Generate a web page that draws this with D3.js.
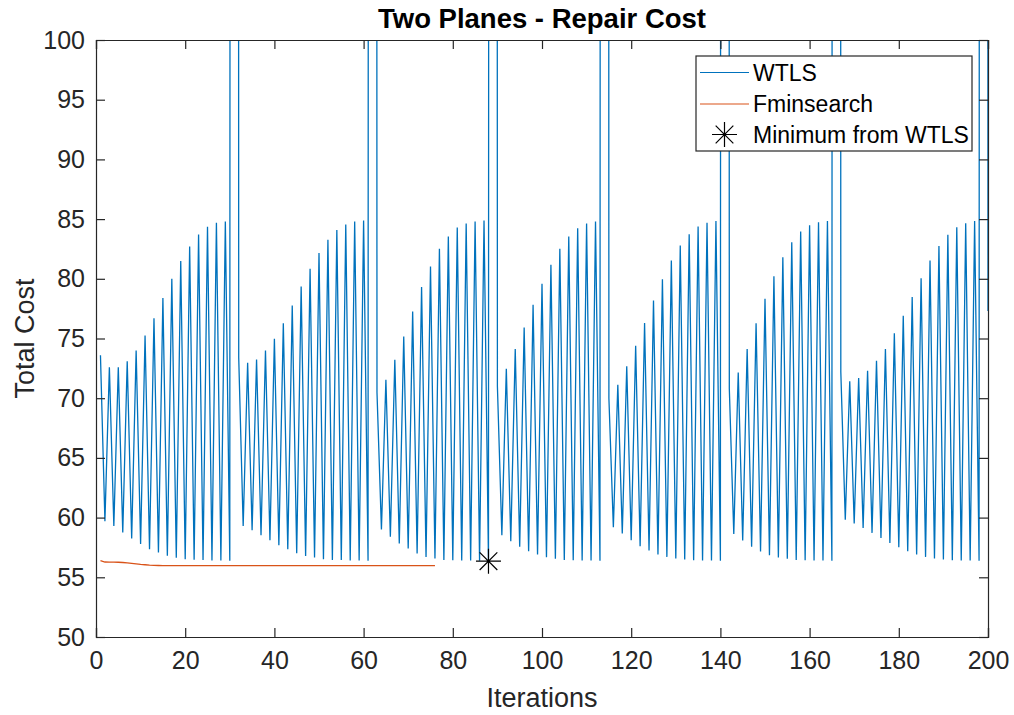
<!DOCTYPE html>
<html>
<head>
<meta charset="utf-8">
<script src="https://cdn.jsdelivr.net/npm/d3@7"></script>
<style>
  html, body { margin: 0; padding: 0; background: #fff; }
  svg { display: block; font-family: "Liberation Sans", Arial, Helvetica, sans-serif; }
</style>
</head>
<body>
<svg id="chart" width="1014" height="715"></svg>
<script>
// Total cost per iteration of the WTLS solver (iterations 1..200).
// Values far above the axis limit are the divergent restarts.
const wtlsCost = [
  73.6, 59.7, 72.6, 59.3, 72.6, 58.75, 73.1, 58.25, 74.0, 57.8,
  75.25, 57.36, 76.7, 57.08, 78.4, 56.8, 80.0, 56.63, 81.5, 56.52,
  82.7, 56.47, 83.7, 56.44, 84.35, 56.41, 84.7, 56.4, 84.8, 56.38,
  1200,
  73.4, 59.3, 72.97, 58.94, 73.24, 58.52, 74.0, 58.1, 74.97, 57.68,
  76.28, 57.35, 77.76, 57.01, 79.35, 56.79, 80.85, 56.65, 82.16, 56.51,
  83.27, 56.46, 84.08, 56.44, 84.55, 56.41, 84.8, 56.41, 84.89, 56.38,
  1200,
  70.5, 59.0, 71.55, 58.39, 73.22, 57.83, 75.17, 57.41, 77.27, 57.0,
  79.31, 56.71, 81.03, 56.57, 82.51, 56.46, 83.54, 56.43, 84.29, 56.41,
  84.63, 56.41, 84.8, 56.38, 84.89, 56.35,
  1200,
  71.0, 58.52, 72.47, 58.02, 74.12, 57.55, 75.93, 57.19, 77.82, 56.91,
  79.58, 56.69, 81.17, 56.55, 82.51, 56.46, 83.54, 56.43, 84.24, 56.41,
  84.63, 56.41, 84.8, 56.38,
  1200,
  70.0, 59.19, 71.13, 58.66, 72.67, 58.1, 74.4, 57.6, 76.29, 57.24,
  78.18, 56.91, 79.97, 56.71, 81.53, 56.57, 82.79, 56.49, 83.74, 56.43,
  84.38, 56.41, 84.69, 56.41, 84.83, 56.38,
  1200,
  70.8, 58.63, 72.16, 58.08, 74.12, 57.55, 76.28, 57.16, 78.33, 56.85,
  80.22, 56.65, 81.81, 56.55, 83.07, 56.46, 83.96, 56.43, 84.49, 56.41,
  84.74, 56.41, 84.85, 56.38,
  1200,
  72.2, 59.83, 71.41, 59.5, 71.69, 59.14, 72.3, 58.72, 73.14, 58.3,
  74.12, 57.88, 75.43, 57.52, 76.9, 57.19, 78.47, 56.91, 80.05, 56.71,
  81.53, 56.57, 82.74, 56.49, 83.68, 56.43, 84.32, 56.41, 84.66, 56.41,
  84.83, 56.38,
  1200,
  77.3
];

// Total cost per iteration of fminsearch (iterations 1..76).
const fminCost = [
  56.40, 56.28, 56.27, 56.27, 56.26, 56.24, 56.20, 56.16, 56.12, 56.08,
  56.05, 56.02, 56.00, 55.99, 55.98, 55.97, 55.97, 55.97, 55.97, 55.97,
  55.97, 55.97, 55.97, 55.97, 55.97, 55.97, 55.97, 55.97, 55.97, 55.97,
  55.97, 55.97, 55.97, 55.97, 55.97, 55.97, 55.97, 55.97, 55.97, 55.97,
  55.97, 55.97, 55.97, 55.97, 55.97, 55.97, 55.97, 55.97, 55.97, 55.97,
  55.97, 55.97, 55.97, 55.97, 55.97, 55.97, 55.97, 55.97, 55.97, 55.97,
  55.97, 55.97, 55.97, 55.97, 55.97, 55.97, 55.97, 55.97, 55.97, 55.97,
  55.97, 55.97, 55.97, 55.97, 55.97, 55.97
];

const xTicks = [0, 20, 40, 60, 80, 100, 120, 140, 160, 180, 200];
const yTicks = [50, 55, 60, 65, 70, 75, 80, 85, 90, 95, 100];
const legendLabels = ["WTLS", "Fminsearch", "Minimum from WTLS"];

const titleText = "Two Planes - Repair Cost";
const xLabelText = "Iterations";
const yLabelText = "Total Cost";

// ---- layout ----
const margin = { left: 96, top: 40, right: 26, bottom: 78 };
const W = 1014, H = 715;
const pw = W - margin.left - margin.right;
const ph = H - margin.top - margin.bottom;

const blue = "#0072BD", orange = "#D95319", axisColor = "#262626";

const svg = d3.select("#chart");
const g = svg.append("g").attr("transform", `translate(${margin.left},${margin.top})`);

const x = d3.scaleLinear().domain([0, 200]).range([0, pw]);
const y = d3.scaleLinear().domain([50, 100]).range([ph, 0]);

g.append("defs").append("clipPath").attr("id", "plotClip")
  .append("rect").attr("width", pw).attr("height", ph);

// ---- series ----
const wtlsPts = wtlsCost.map((v, i) => [i + 1, v]);
const fminPts = fminCost.map((v, i) => [i + 1, v]);

const line = d3.line().x(d => x(d[0])).y(d => y(d[1]));

const plot = g.append("g").attr("clip-path", "url(#plotClip)");
plot.append("path").datum(wtlsPts)
  .attr("fill", "none").attr("stroke", blue).attr("stroke-width", 1.3)
  .attr("stroke-linejoin", "miter").attr("d", line);
plot.append("path").datum(fminPts)
  .attr("fill", "none").attr("stroke", orange).attr("stroke-width", 1.3)
  .attr("d", line);

// asterisk marker
function asterisk(sel, cx, cy, r) {
  const d = r * Math.SQRT1_2;
  const p = `M${cx - r},${cy}L${cx + r},${cy}M${cx},${cy - r}L${cx},${cy + r}` +
            `M${cx - d},${cy - d}L${cx + d},${cy + d}M${cx - d},${cy + d}L${cx + d},${cy - d}`;
  sel.append("path").attr("d", p).attr("stroke", "#000").attr("stroke-width", 1.2).attr("fill", "none");
}

const minIdx = d3.minIndex(wtlsCost);
asterisk(g, x(minIdx + 1), y(wtlsCost[minIdx]), 12.5);

// ---- axes (ticks point inward, box on) ----
const tickLen = 9;
const fontTick = 25;

const xAxisB = g.append("g").attr("transform", `translate(0,${ph})`)
  .call(d3.axisBottom(x).tickValues(xTicks).tickSize(-tickLen).tickPadding(14).tickFormat(d3.format("d")));
const xAxisT = g.append("g")
  .call(d3.axisTop(x).tickValues(xTicks).tickSize(-tickLen).tickFormat(""));
const yAxisL = g.append("g")
  .call(d3.axisLeft(y).tickValues(yTicks).tickSize(-tickLen).tickPadding(11).tickFormat(d3.format("d")));
const yAxisR = g.append("g").attr("transform", `translate(${pw},0)`)
  .call(d3.axisRight(y).tickValues(yTicks).tickSize(-tickLen).tickFormat(""));

[xAxisB, xAxisT, yAxisL, yAxisR].forEach(a => {
  a.select(".domain").attr("stroke", axisColor).attr("stroke-width", 1.2);
  a.selectAll(".tick line").attr("stroke", axisColor).attr("stroke-width", 1.2);
  a.selectAll(".tick text").attr("fill", axisColor)
    .style("font-size", fontTick + "px")
    .style("font-family", '"Liberation Sans", Arial, sans-serif');
});

// ---- labels ----
svg.append("text")
  .attr("x", margin.left + pw / 2).attr("y", 28)
  .attr("text-anchor", "middle")
  .style("font-size", "27.5px").style("font-weight", "bold").attr("fill", "#000")
  .text(titleText);

svg.append("text")
  .attr("x", margin.left + pw / 2).attr("y", 707)
  .attr("text-anchor", "middle")
  .style("font-size", "27px").attr("fill", axisColor)
  .text(xLabelText);

svg.append("text")
  .attr("transform", `translate(34,${margin.top + ph / 2}) rotate(-90)`)
  .attr("text-anchor", "middle")
  .style("font-size", "27px").attr("fill", axisColor)
  .text(yLabelText);

// ---- legend ----
const lg = svg.append("g").attr("transform", "translate(696,56)");
lg.append("rect").attr("width", 276).attr("height", 95)
  .attr("fill", "#fff").attr("stroke", axisColor).attr("stroke-width", 1.2);

const rowY = [16.5, 48, 78.5];
const legendColors = [blue, orange, "#000"];
legendLabels.forEach((lab, i) => {
  if (i < 2) {
    lg.append("line").attr("x1", 4).attr("x2", 53).attr("y1", rowY[i]).attr("y2", rowY[i])
      .attr("stroke", legendColors[i]).attr("stroke-width", 1.2);
  } else {
    asterisk(lg, 28.5, rowY[i], 12.5);
  }
  lg.append("text").attr("x", 57).attr("y", rowY[i]).attr("dy", "0.36em")
    .style("font-size", "23px").attr("fill", "#000").text(lab);
});
</script>
</body>
</html>
